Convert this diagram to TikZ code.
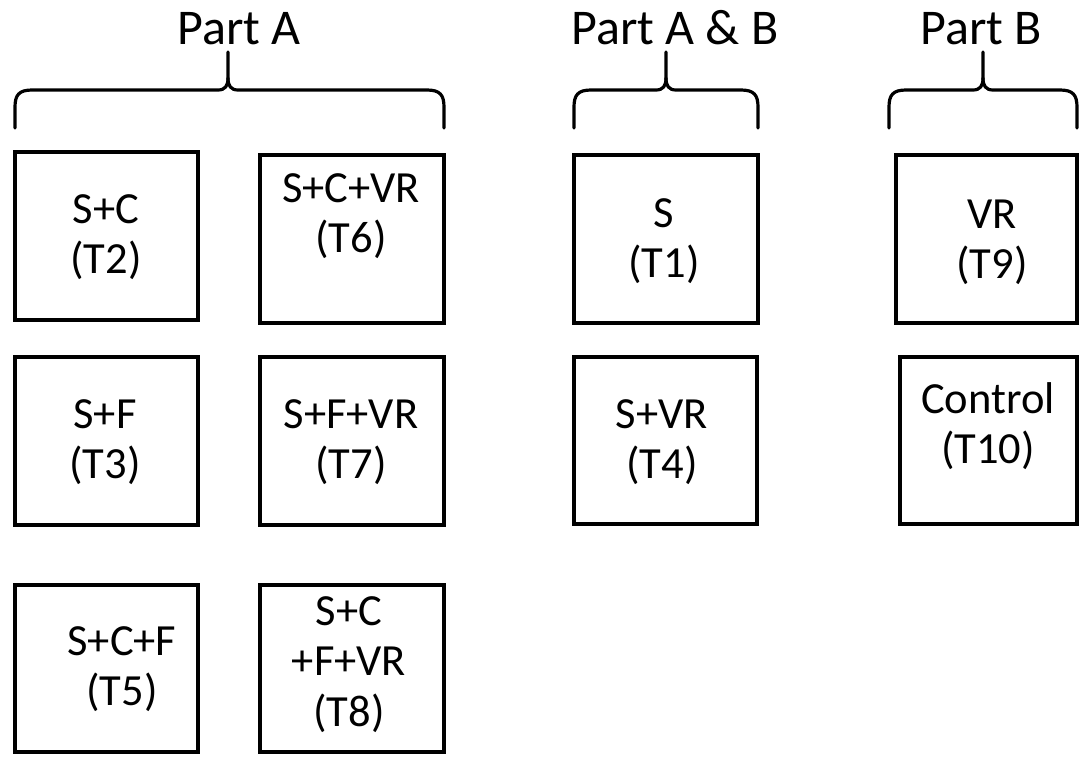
\documentclass[tikz,border=0pt]{standalone}
\usepackage{fontspec}
\setmainfont{Carlito}
% stacked, centred lines whose reference point is the first baseline
\newcommand\tcell[1]{\begin{tabular}[t]{@{}c@{}}#1\end{tabular}}
\begin{document}
\begin{tikzpicture}[x=1pt,y=-1pt,
  box/.style={draw=black, line width=4.4pt, rectangle, inner sep=0pt, outer sep=0pt},
  lbl/.style={anchor=base, inner sep=0pt, font=\fontsize{44.5}{50.5}\selectfont},
  ttl/.style={anchor=base, inner sep=0pt, font=\fontsize{50}{60}\selectfont},
  brace/.style={draw=black, line width=3.2pt, line cap=round, line join=round}]
\useasboundingbox (0,0) rectangle (1080,756);

% ---- group titles
\node[ttl] (ttlA)  at (239,44) {Part A};
\node[ttl] (ttlAB) at (675,44) {Part A \& B};
\node[ttl] (ttlB)  at (981,44) {Part B};

% ---- braces under the titles
\foreach \xl/\xp/\xr in {15/228/444, 574/666/758, 889/983/1077}{
  \draw[brace] (\xl,128) -- (\xl,107)
     .. controls (\xl,95) and (\xl+4,90) .. (\xl+17,90)
     -- (\xp-10,90) .. controls (\xp-3,90) and (\xp,86) .. (\xp,78)
     -- (\xp,52);
  \draw[brace] (\xp,78) .. controls (\xp,86) and (\xp+3,90) .. (\xp+10,90)
     -- (\xr-17,90) .. controls (\xr-4,90) and (\xr,95) .. (\xr,107)
     -- (\xr,128);
}

% ---- Part A
\node[box, minimum width=183pt, minimum height=168pt] (t2) at (106.5,236) {};
\node[box, minimum width=184pt, minimum height=168pt] (t6) at (352,239) {};
\node[box, minimum width=183pt, minimum height=168pt] (t3) at (106.5,441) {};
\node[box, minimum width=184pt, minimum height=168pt] (t7) at (352,441) {};
\node[box, minimum width=183pt, minimum height=167pt] (t5) at (106.5,668.5) {};
\node[box, minimum width=184pt, minimum height=167pt] (t8) at (352,668.5) {};

\node[lbl] (t2txt) at (106,223) {\tcell{S+C\\(T2)}};
\node[lbl] (t6txt) at (351,202) {\tcell{S+C+VR\\(T6)}};
\node[lbl] (t3txt) at (105,428) {\tcell{S+F\\(T3)}};
\node[lbl] (t7txt) at (351,428) {\tcell{S+F+VR\\(T7)}};
\node[lbl] (t5txt) at (122,655) {\tcell{S+C+F\\(T5)}};
\node[lbl] (t8txt) at (349,625) {\tcell{S+C\\+F+VR\\(T8)}};

% ---- Part A & B
\node[box, minimum width=184pt, minimum height=168pt] (t1) at (666,239) {};
\node[box, minimum width=183pt, minimum height=167pt] (t4) at (665.5,440.5) {};
\node[lbl] (t1txt) at (664,227) {\tcell{S\\(T1)}};
\node[lbl] (t4txt) at (662,428) {\tcell{S+VR\\(T4)}};

% ---- Part B
\node[box, minimum width=181pt, minimum height=168pt] (t9) at (986.5,239) {};
\node[box, minimum width=177pt, minimum height=167pt] (t10) at (988.5,440.5) {};
\node[lbl] (t9txt) at (992,228) {\tcell{VR\\(T9)}};
\node[lbl] (t10txt) at (988,413) {\tcell{Control\\(T10)}};
\end{tikzpicture}
\end{document}
